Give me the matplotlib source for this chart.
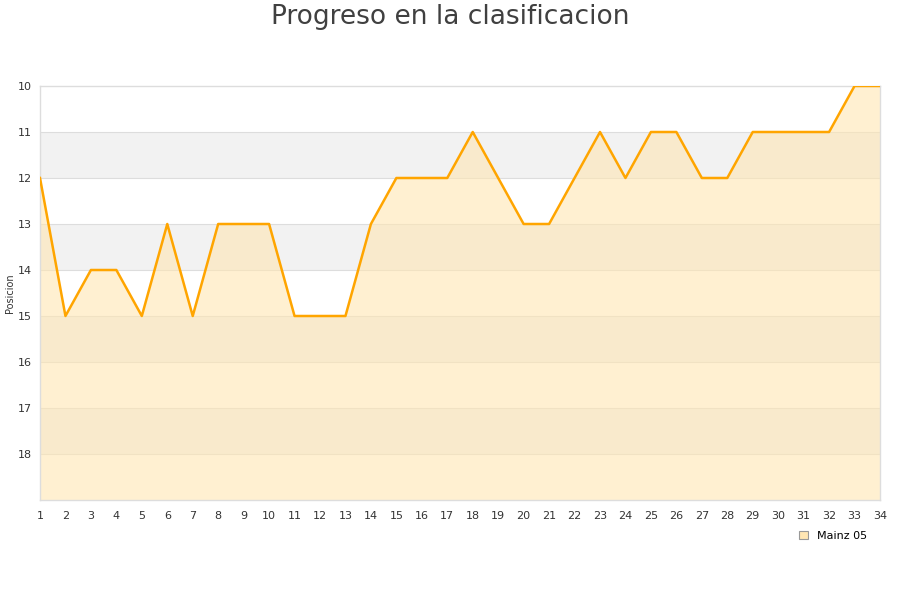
import matplotlib
matplotlib.use("Agg")
import matplotlib.pyplot as plt
from matplotlib.patches import Patch

jornadas = list(range(1, 35))
posiciones = [12, 15, 14, 14, 15, 13, 15, 13, 13, 13, 15, 15, 15, 13, 12, 12, 12, 11, 12, 13,
              13, 12, 11, 12, 11, 11, 12, 12, 11, 11, 11, 11, 10, 10]
equipo = "Mainz 05"
titulo = "Progreso en la clasificacion"
y_ticks = [10, 11, 12, 13, 14, 15, 16, 17, 18]

fig = plt.figure(figsize=(9, 6), dpi=100)
ax = fig.add_axes([40/900, 1 - 500/600, 840/900, 414/600])

ax.set_xlim(1, 34)
ax.set_ylim(19, 10)

# alternating bands
for lo in [11, 13, 15, 17]:
    ax.axhspan(lo, lo + 1, color="#f2f2f2", zorder=0, lw=0)
for t in y_ticks[1:]:
    ax.axhline(t, color="#dddddd", lw=0.8, zorder=1)

ax.fill_between(jornadas, posiciones, 19, color="#ffe6b3", alpha=0.6, lw=0, zorder=2)
ax.plot(jornadas, posiciones, color="#ffa500", lw=1.8, zorder=3)

ax.set_xticks(jornadas)
ax.set_yticks(y_ticks)
ax.tick_params(axis="both", length=0, labelsize=8, colors="#333333")
ax.tick_params(axis="y", pad=6)
ax.tick_params(axis="x", pad=8)
for s in ax.spines.values():
    s.set_color("#dddddd")
    s.set_linewidth(1)

fig.text(10/900, 1 - 293/600, "Posicion", rotation=90, ha="center", va="center",
         fontsize=7, color="#333333")
fig.text(0.5, 1 - 17/600, titulo, ha="center", va="center", fontsize=19, color="#404040")

handle = Patch(facecolor="#ffe6b3", edgecolor="#999999", lw=0.8)
leg = fig.legend([handle], [equipo], loc="center", bbox_to_anchor=(833/900, 1 - 536/600),
                 frameon=False, fontsize=8, handlelength=0.8, handleheight=0.8, handletextpad=0.8)

fig.savefig("out.png", dpi=100)
